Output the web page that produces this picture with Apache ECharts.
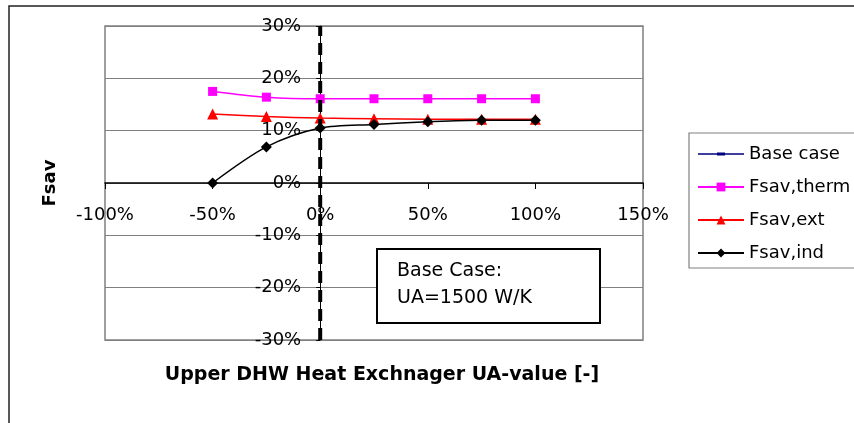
<!DOCTYPE html>
<html><head><meta charset="utf-8">
<script src="https://cdn.jsdelivr.net/npm/echarts@6/dist/echarts.min.js"></script>
<style>html,body{margin:0;padding:0;background:#fff}#c{width:854px;height:423px}</style>
</head><body><div id="c"></div>
<script>
var xValues = [-50, -25, 0, 25, 50, 75, 100];
var fsavTherm = [17.5, 16.4, 16.1, 16.1, 16.1, 16.1, 16.1];
var fsavExt = [13.2, 12.7, 12.4, 12.3, 12.2, 12.2, 12.2];
var fsavInd = [0.0, 6.9, 10.5, 11.2, 11.7, 12.0, 12.0];
var baseCaseX = [0, 0];
var baseCaseY = [-30, 30];
var seriesNames = ['Base case', 'Fsav,therm', 'Fsav,ext', 'Fsav,ind'];
var xTitle = 'Upper DHW Heat Exchnager UA-value [-]';
var yTitle = 'Fsav';
var noteText = 'Base Case:\nUA=1500 W/K';

function pairs(xs, ys){ return xs.map(function(x,i){ return [x, ys[i]]; }); }
var FF = '"DejaVu Sans", sans-serif';
var GL = 105, GR = 643, GT = 26, GB = 340;
var chart = echarts.init(document.getElementById('c'), null, {renderer:'canvas'});
// axes cross at zero: place them with offsets computed from the axis ranges
var xMin = -100, xMax = 150, yMin = -30, yMax = 30;
var yAxisOffset = -((0 - xMin) / (xMax - xMin)) * (GR - GL);
var xAxisOffset = -((0 - yMin) / (yMax - yMin)) * (GB - GT);
chart.setOption({
  animation: false,
  backgroundColor: '#fff',
  grid: {left:GL, right:854-GR, top:GT, bottom:423-GB, show:true, borderColor:'#808080', borderWidth:1.5, backgroundColor:'transparent'},
  xAxis: {type:'value', min:xMin, max:xMax, interval:50, position:'bottom', offset:xAxisOffset,
    axisLine:{onZero:false, lineStyle:{color:'#000', width:1.5}},
    axisTick:{show:true, length:6, lineStyle:{color:'#000'}},
    axisLabel:{formatter:function(v){return v+'%';}, color:'#000', fontSize:18, fontFamily:FF, margin:23},
    splitLine:{show:false}},
  yAxis: {type:'value', min:yMin, max:yMax, interval:10, position:'left', offset:yAxisOffset,
    axisLine:{onZero:false, lineStyle:{color:'#000', width:1}},
    axisTick:{show:true, length:4, lineStyle:{color:'#000'}},
    axisLabel:{formatter:function(v){return v+'%';}, color:'#000', fontSize:18, fontFamily:FF, margin:19},
    splitLine:{show:true, lineStyle:{color:'#808080', width:1.2}}},
  legend: {orient:'vertical', left:692, top:140, itemWidth:46, itemHeight:11, itemGap:15,
    textStyle:{color:'#000', fontSize:18, fontFamily:FF},
    data:[
      {name:seriesNames[0], icon:'path://M0,4 L46,4 L46,5.5 L0,5.5 Z M19,3.2 L27,3.2 L27,6.3 L19,6.3 Z', itemStyle:{color:'#000080'}},
      {name:seriesNames[1]},
      {name:seriesNames[2]},
      {name:seriesNames[3]}
    ]},
  series: [
    {name:seriesNames[0], type:'line', data:pairs(baseCaseX, baseCaseY), symbol:'rect', symbolSize:[9,3], showSymbol:false,
      itemStyle:{color:'#000080'}, lineStyle:{color:'#000', width:4, type:[12,7]}, z:5},
    {name:seriesNames[1], type:'line', data:pairs(xValues, fsavTherm), smooth:0.3, symbol:'rect', symbolSize:9,
      itemStyle:{color:'#ff00ff'}, lineStyle:{color:'#ff00ff', width:1.5}},
    {name:seriesNames[2], type:'line', data:pairs(xValues, fsavExt), smooth:0.3, symbol:'triangle', symbolSize:11,
      itemStyle:{color:'#ff0000'}, lineStyle:{color:'#ff0000', width:1.5}},
    {name:seriesNames[3], type:'line', data:pairs(xValues, fsavInd), smooth:0.3, symbol:'diamond', symbolSize:11,
      itemStyle:{color:'#000'}, lineStyle:{color:'#000', width:1.5}}
  ],
  graphic: [
    {type:'rect', shape:{x:9, y:6, width:900, height:500}, style:{fill:'none', stroke:'#222', lineWidth:1.5}, silent:true},
    {type:'rect', shape:{x:689, y:133, width:200, height:135}, style:{fill:'none', stroke:'#808080', lineWidth:1.2}, silent:true},
    {type:'rect', shape:{x:377, y:249, width:223, height:74}, style:{fill:'#fff', stroke:'#000', lineWidth:2}, z:10},
    {type:'text', x:397, y:258, style:{text:noteText, fill:'#000', font:'19px '+FF, lineHeight:27}, z:11},
    {type:'text', x:382, y:375, style:{text:xTitle, fill:'#000', font:'bold 19px '+FF, textAlign:'center', textVerticalAlign:'middle'}},
    {type:'text', x:50, y:183, rotation:Math.PI/2, style:{text:yTitle, fill:'#000', font:'bold 18px '+FF, textAlign:'center', textVerticalAlign:'middle'}}
  ]
});
</script></body></html>
